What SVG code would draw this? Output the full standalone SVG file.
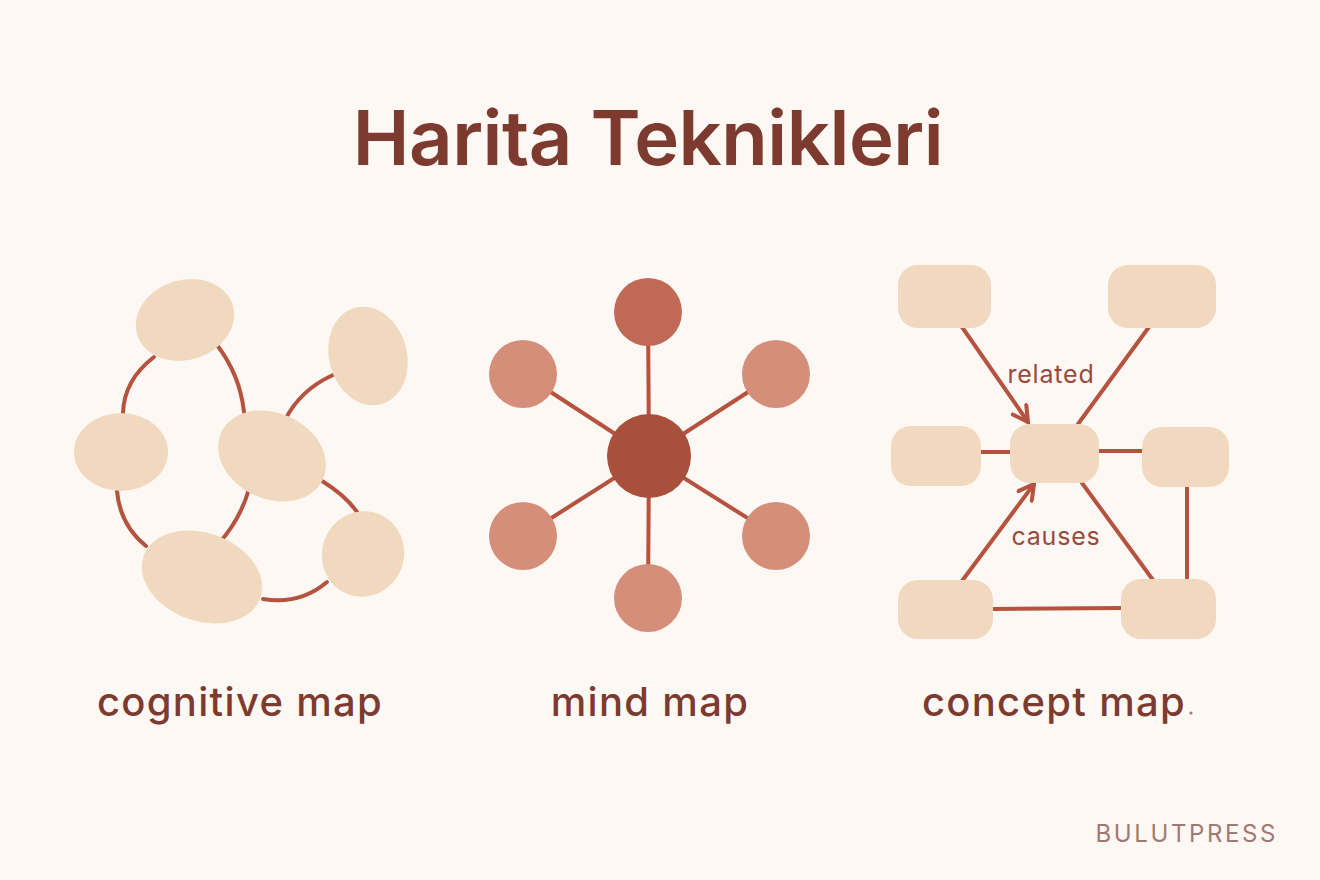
<svg xmlns="http://www.w3.org/2000/svg" width="1320" height="880" viewBox="0 0 1320 880">
<defs>
<style>
.bg{fill:#FDF8F4}
.title{font-family:Inter,"Open Sans","Liberation Sans",sans-serif;font-weight:600;font-size:76px;fill:#7D3B30;letter-spacing:-0.5px}
.lbl{font-family:Inter,"Open Sans","Liberation Sans",sans-serif;font-weight:500;font-size:40px;fill:#7D3B30;letter-spacing:1.3px}
.elab{font-family:Inter,"Open Sans","Liberation Sans",sans-serif;font-weight:400;font-size:25px;fill:#9A4A3C;letter-spacing:0.8px}
.brand{font-family:Inter,"Open Sans","Liberation Sans",sans-serif;font-weight:400;font-size:24px;fill:#A07A72;letter-spacing:2.6px}
.blob{fill:#F0D9BE}
.box{fill:#F0D9BE}
.leaf{fill:#D58E79}
.top{fill:#C06A55}
.hub{fill:#A9503C}
.edge{fill:none;stroke:#B5533F;stroke-width:4;stroke-linecap:round}
</style>
<marker id="arr" viewBox="0 0 12 12" refX="10" refY="6" markerWidth="5" markerHeight="5" orient="auto" markerUnits="strokeWidth">
<path d="M1,1 L10,6 L1,11" fill="none" stroke="#B5533F" stroke-width="2.4" stroke-linecap="round"/>
</marker>
</defs>
<rect class="bg" x="0" y="0" width="1320" height="880"/>
<text class="title" x="648" y="165" text-anchor="middle">Harita Teknikleri</text>

<g id="connectors">
<!-- cognitive map -->
<path class="edge" d="M154,357 Q124,380 123,413"/>
<path class="edge" d="M217,345 Q240,375 244,412"/>
<path class="edge" d="M117,491 Q120,525 146,546"/>
<path class="edge" d="M249,489 Q240,520 219,543"/>
<path class="edge" d="M285,420 Q300,390 333,375"/>
<path class="edge" d="M322,481 Q345,495 357,512"/>
<path class="edge" d="M263,599 Q300,605 327,582"/>
<!-- mind map -->
<line class="edge" x1="649" y1="456" x2="648" y2="312"/>
<line class="edge" x1="649" y1="456" x2="523" y2="374"/>
<line class="edge" x1="649" y1="456" x2="776" y2="374"/>
<line class="edge" x1="649" y1="456" x2="523" y2="536"/>
<line class="edge" x1="649" y1="456" x2="776" y2="536"/>
<line class="edge" x1="649" y1="456" x2="648" y2="598"/>
<!-- concept map -->
<line class="edge" x1="962" y1="327" x2="1028" y2="422" marker-end="url(#arr)"/>
<line class="edge" x1="1149" y1="327" x2="1078" y2="424"/>
<line class="edge" x1="981" y1="452" x2="1010" y2="452"/>
<line class="edge" x1="1099" y1="451" x2="1142" y2="451"/>
<line class="edge" x1="962" y1="581" x2="1034" y2="484" marker-end="url(#arr)"/>
<line class="edge" x1="1082" y1="483" x2="1153" y2="580"/>
<line class="edge" x1="1187" y1="487" x2="1187" y2="579"/>
<line class="edge" x1="993" y1="609" x2="1121" y2="608"/>
</g>

<g id="cog-a"><ellipse class="blob" cx="185" cy="320" rx="50" ry="40" transform="rotate(-18 185 320)"/></g>
<g id="cog-b"><ellipse class="blob" cx="368" cy="356" rx="39" ry="50" transform="rotate(-15 368 356)"/></g>
<g id="cog-c"><ellipse class="blob" cx="121" cy="452" rx="47" ry="39"/></g>
<g id="cog-d"><ellipse class="blob" cx="272" cy="456" rx="56" ry="43" transform="rotate(25 272 456)"/></g>
<g id="cog-e"><ellipse class="blob" cx="202" cy="577" rx="62" ry="44" transform="rotate(20 202 577)"/></g>
<g id="cog-f"><ellipse class="blob" cx="363" cy="554" rx="41" ry="43" transform="rotate(20 363 554)"/></g>

<g id="mind-top"><circle class="top" cx="648" cy="312" r="34"/></g>
<g id="mind-ul"><circle class="leaf" cx="523" cy="374" r="34"/></g>
<g id="mind-ur"><circle class="leaf" cx="776" cy="374" r="34"/></g>
<g id="mind-ll"><circle class="leaf" cx="523" cy="536" r="34"/></g>
<g id="mind-lr"><circle class="leaf" cx="776" cy="536" r="34"/></g>
<g id="mind-bottom"><circle class="leaf" cx="648" cy="598" r="34"/></g>
<g id="mind-hub"><circle class="hub" cx="649" cy="456" r="42"/></g>

<g id="con-tl"><rect class="box" x="898" y="265" width="93" height="63" rx="20"/></g>
<g id="con-tr"><rect class="box" x="1108" y="265" width="108" height="63" rx="20"/></g>
<g id="con-ml"><rect class="box" x="891" y="426" width="90" height="60" rx="20"/></g>
<g id="con-c"><rect class="box" x="1010" y="424" width="89" height="59" rx="20"/></g>
<g id="con-mr"><rect class="box" x="1142" y="427" width="87" height="60" rx="20"/></g>
<g id="con-bl"><rect class="box" x="898" y="580" width="95" height="59" rx="20"/></g>
<g id="con-br"><rect class="box" x="1121" y="579" width="95" height="60" rx="20"/></g>

<text class="elab" x="1051" y="383" text-anchor="middle">related</text>
<text class="elab" x="1056" y="545" text-anchor="middle">causes</text>

<text class="lbl" x="240" y="716" text-anchor="middle">cognitive map</text>
<text class="lbl" x="650" y="716" text-anchor="middle">mind map</text>
<text class="lbl" x="1054" y="716" text-anchor="middle">concept map</text>
<circle cx="1191" cy="713" r="1.6" fill="#A07A72"/>
<text class="brand" x="1278" y="842" text-anchor="end">BULUTPRESS</text>
</svg>
